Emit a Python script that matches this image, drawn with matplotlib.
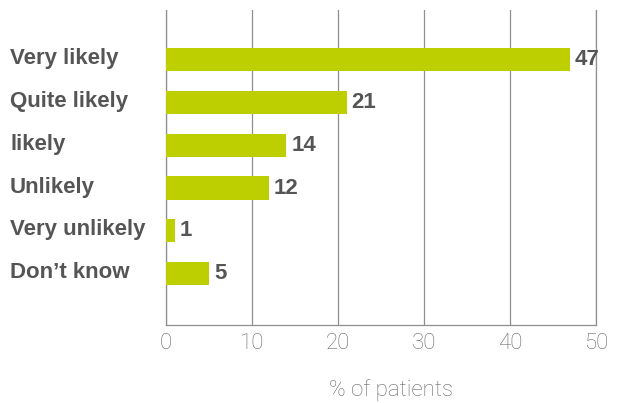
import matplotlib
matplotlib.use("Agg")
import matplotlib.pyplot as plt
import matplotlib.transforms as mtransforms

categories = ["Very likely", "Quite likely", "likely", "Unlikely", "Very unlikely", "Don\u2019t know"]
values = [47, 21, 14, 12, 1, 5]
xticks = [0, 10, 20, 30, 40, 50]

W, H = 619, 403
fig = plt.figure(figsize=(W / 100, H / 100), dpi=100)
ax = fig.add_axes([166 / W, (H - 325) / H, (596 - 166) / W, (325 - 10) / H])

bar_color = "#BDCF00"
text_color = "#555555"
grid_color = "#8f8f8f"
light_color = "#6a6a6a"

pos = list(range(len(categories)))
ax.barh(pos, values, height=0.54, color=bar_color, zorder=3)

for p, v in zip(pos, values):
    ax.annotate(str(v), (v, p), xytext=(3.5, 0), textcoords="offset points",
                ha="left", va="center", fontsize=16, fontweight="bold",
                color=text_color, family=["Liberation Sans", "DejaVu Sans"], zorder=4)

ax.set_xlim(0, 50)
ax.set_ylim(6.2, -1.16)
ax.set_xticks(xticks)
ax.set_xticklabels([str(t) for t in xticks], fontsize=16, color=light_color,
                   family=["Roboto", "DejaVu Sans"], fontweight="light")
ax.xaxis.grid(True, color=grid_color, linewidth=0.9, zorder=0)
ax.set_axisbelow(True)

ax.set_yticks([])
label_tr = mtransforms.blended_transform_factory(fig.transFigure, ax.transData) + \
    mtransforms.ScaledTranslation(0, 1 / 100, fig.dpi_scale_trans)
for p, c in zip(pos, categories):
    ax.text(10 / W, p, c, transform=label_tr, ha="left", va="center",
            fontsize=16, fontweight="bold", color=text_color,
            family=["Liberation Sans", "DejaVu Sans"], clip_on=False)
ax.tick_params(axis="x", length=0, pad=6)

for s in ["top"]:
    ax.spines[s].set_visible(False)
for s in ["left", "bottom", "right"]:
    ax.spines[s].set_color(grid_color)
    ax.spines[s].set_linewidth(0.9)

fig.text(391 / W, 1 - 390 / H, "% of patients", ha="center", va="center",
         fontsize=16, color=light_color, family=["Roboto", "DejaVu Sans"], fontweight="light")

fig.savefig("out.png", dpi=100)
